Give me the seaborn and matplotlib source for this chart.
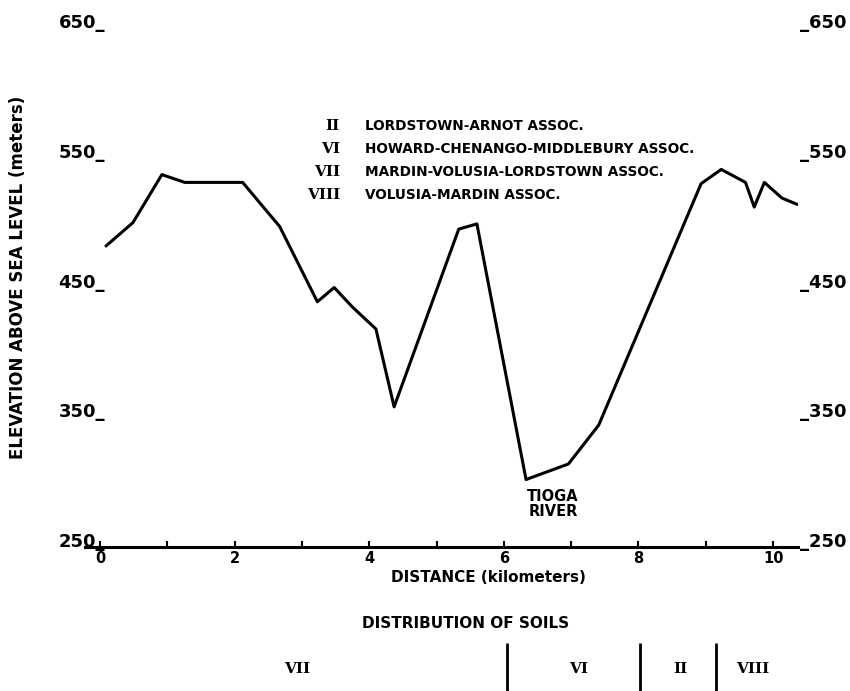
import matplotlib
matplotlib.use("Agg")
import matplotlib.pyplot as plt
import seaborn as sns
import pandas as pd
from matplotlib.ticker import FixedLocator

# ---- data ----
distance_km = [0.09, 0.49, 0.92, 1.26, 2.12, 2.67, 3.23, 3.48, 3.75, 4.10, 4.37,
               5.33, 5.60, 6.33, 6.96, 7.41, 8.93, 9.23, 9.59, 9.72, 9.87, 10.13, 10.36]
elevation_m = [482, 500, 537, 531, 531, 497, 439, 450, 435, 418, 358,
               495, 499, 302, 314, 344, 530, 541, 531, 512, 531, 519, 514]

y_ticks = [250, 350, 450, 550, 650]
x_major = [0, 2, 4, 6, 8, 10]
x_minor = [1, 3, 5, 7, 9]

legend_numerals = ["II", "VI", "VII", "VIII"]
legend_names = ["LORDSTOWN-ARNOT ASSOC.",
                "HOWARD-CHENANGO-MIDDLEBURY ASSOC.",
                "MARDIN-VOLUSIA-LORDSTOWN ASSOC.",
                "VOLUSIA-MARDIN ASSOC."]

soil_boundaries_km = [6.05, 8.02, 9.15]
soil_labels = ["VII", "VI", "II", "VIII"]
soil_label_pos_km = [2.93, 7.11, 8.62, 9.70]

river_label = "TIOGA\nRIVER"
river_label_pos = (6.73, 283)

# ---- figure ----
sns.set_theme(style="white")
plt.rcParams["font.family"] = ["DejaVu Sans"]
plt.rcParams.update({"text.color": "black", "axes.labelcolor": "black",
                     "xtick.color": "black", "ytick.color": "black",
                     "axes.edgecolor": "black"})

W, H = 850, 691
fig = plt.figure(figsize=(W / 100, H / 100), dpi=100)
fig.patch.set_facecolor("white")

ax_left_px, ax_right_px = 85, 798
ax_top_px, ax_bot_px = 28, 547
ax = fig.add_axes([ax_left_px / W, 1 - ax_bot_px / H,
                   (ax_right_px - ax_left_px) / W, (ax_bot_px - ax_top_px) / H])
ax.set_facecolor("white")

df = pd.DataFrame({"distance": distance_km, "elevation": elevation_m})
sns.lineplot(data=df, x="distance", y="elevation", ax=ax, color="black",
             linewidth=2.2, sort=False, estimator=None)

ax.set_xlim(-0.222, 10.37)
ax.set_ylim(250, 650)
ax.set_xlabel("")
ax.set_ylabel("")

for s in ["left", "right", "top"]:
    ax.spines[s].set_visible(False)
ax.spines["bottom"].set_linewidth(2.2)
ax.spines["bottom"].set_color("black")

# x ticks
ax.xaxis.set_major_locator(FixedLocator(x_major))
ax.xaxis.set_minor_locator(FixedLocator(x_minor))
ax.set_xticklabels([str(v) for v in x_major])
ax.tick_params(axis="x", which="both", direction="in", length=4, width=1.5,
               color="black", labelcolor="black", bottom=True, pad=3)
ax.tick_params(axis="x", which="major", labelsize=10.5)
for lab in ax.get_xticklabels():
    lab.set_fontweight("bold")

# y tick labels on both sides (underscore marks the tick)
ax.set_yticks(y_ticks)
ax.set_yticklabels([f"{v}_" for v in y_ticks])
ax.tick_params(axis="y", which="both", length=0, pad=-14.5, labelsize=13,
               labelcolor="black")
for lab in ax.get_yticklabels():
    lab.set_fontweight("bold")
    lab.set_va("baseline")

ax2 = ax.twinx()
ax2.set_ylim(250, 650)
ax2.set_yticks(y_ticks)
ax2.set_yticklabels([f"_{v}" for v in y_ticks])
ax2.tick_params(axis="y", length=0, pad=1.5, labelsize=13, labelcolor="black")
for lab in ax2.get_yticklabels():
    lab.set_fontweight("bold")
    lab.set_va("baseline")
for s in ax2.spines.values():
    s.set_visible(False)
ax2.grid(False)
ax.grid(False)

# river label
ax.text(river_label_pos[0], river_label_pos[1], river_label, ha="center",
        va="center", fontsize=10.5, fontweight="bold", linespacing=1.0,
        color="black")

# axis titles
fig.text(18 / W, 1 - 277 / H, "ELEVATION ABOVE SEA LEVEL (meters)", rotation=90,
         ha="center", va="center", fontsize=12, fontweight="bold", color="black")
fig.text(488 / W, 1 - 578 / H, "DISTANCE (kilometers)", ha="center", va="center",
         fontsize=11, fontweight="bold", color="black")
fig.text(466 / W, 1 - 624 / H, "DISTRIBUTION OF SOILS", ha="center", va="center",
         fontsize=11, fontweight="bold", color="black")

# legend
rows_px = [126, 149, 172, 195]
for num, name, ypx in zip(legend_numerals, legend_names, rows_px):
    fig.text(340 / W, 1 - ypx / H, num, ha="right", va="center", fontsize=11,
             fontweight="bold", family=["DejaVu Serif"], color="black")
    fig.text(365 / W, 1 - ypx / H, name, ha="left", va="center", fontsize=9.8,
             fontweight="bold", color="black")

# soil distribution strip
soil_top_px = 643
ax_s = fig.add_axes([ax_left_px / W, 0, (ax_right_px - ax_left_px) / W,
                     (H - soil_top_px) / H])
ax_s.set_xlim(ax.get_xlim())
ax_s.set_ylim(0, 1)
ax_s.axis("off")
ax_s.vlines(soil_boundaries_km, 0, 1, colors="black", linewidth=2)
for lab, xk in zip(soil_labels, soil_label_pos_km):
    ax_s.text(xk, 0.46, lab, ha="center", va="center", fontsize=11,
              fontweight="bold", family=["DejaVu Serif"], color="black")

fig.savefig("out.png", dpi=100, facecolor="white")
